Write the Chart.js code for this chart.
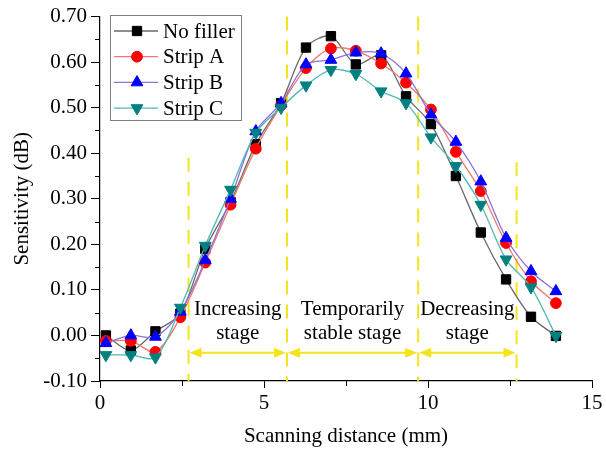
<!DOCTYPE html>
<html>
<head>
<meta charset="utf-8">
<script src="https://cdn.jsdelivr.net/npm/chart.js@4.4.1/dist/chart.umd.min.js"></script>
<style>
  html, body { margin: 0; padding: 0; background: #fff; }
  #wrap { width: 606px; height: 457px; }
</style>
</head>
<body>
<div id="wrap"><canvas id="chartSens" width="606" height="457"></canvas></div>
<script>
// scanning positions (mm)
const distance = [0.18, 0.94, 1.69, 2.45, 3.21, 3.98, 4.75, 5.52, 6.28, 7.04, 7.80, 8.57, 9.33, 10.09, 10.85, 11.61, 12.38, 13.14, 13.90];

// sensitivity (dB)
const noFiller = [0.000, -0.033, 0.009, 0.048, 0.190, 0.293, 0.420, 0.510, 0.632, 0.657, 0.595, 0.615, 0.525, 0.464, 0.350, 0.226, 0.123, 0.041, -0.001];
const stripA   = [-0.012, -0.012, -0.036, 0.040, 0.160, 0.287, 0.410, 0.505, 0.587, 0.630, 0.625, 0.597, 0.555, 0.496, 0.403, 0.317, 0.203, 0.119, 0.071];
const stripB   = [-0.017, 0.000, -0.003, 0.052, 0.165, 0.300, 0.448, 0.510, 0.595, 0.605, 0.621, 0.619, 0.575, 0.485, 0.425, 0.338, 0.214, 0.141, 0.097];
const stripC   = [-0.043, -0.043, -0.048, 0.061, 0.197, 0.320, 0.445, 0.500, 0.549, 0.583, 0.574, 0.536, 0.510, 0.435, 0.372, 0.287, 0.167, 0.106, -0.001];

const seriesNames = ['No filler', 'Strip A', 'Strip B', 'Strip C'];

// stage boundaries (mm) and where each dashed line stops (dB)
const stageBounds = [2.7, 5.7, 9.7, 12.7];
const stageLineTop = [0.39, 0.70, 0.70, 0.38];
const stageNames = [['Increasing', 'stage'], ['Temporarily', 'stable stage'], ['Decreasing', 'stage']];
const arrowLevel = -0.038;

const xTicks = [0, 5, 10, 15];
const yTicks = [-0.10, 0.00, 0.10, 0.20, 0.30, 0.40, 0.50, 0.60, 0.70];

const FONT = 'Liberation Serif, Times New Roman, serif';
const YELLOW = '#f4e41c';

const styles = [
  { line: '#6a6a6a', fill: '#000000', shape: 'rect', r: 6.6, rot: 0 },
  { line: '#ee7a6a', fill: '#ff0000', shape: 'circle', r: 5.4, rot: 0 },
  { line: '#8c70dc', fill: '#0000ff', shape: 'triangle', r: 6.8, rot: 0 },
  { line: '#52b8b4', fill: '#008080', shape: 'triangle', r: 6.8, rot: 180 }
];

function toPoints(ys) {
  return distance.map((x, i) => ({ x: x, y: ys[i] }));
}

const allSeries = [noFiller, stripA, stripB, stripC];

const datasets = allSeries.map((ys, i) => ({
  label: seriesNames[i],
  data: toPoints(ys),
  borderColor: styles[i].line,
  borderWidth: 1.3,
  backgroundColor: styles[i].fill,
  pointBackgroundColor: styles[i].fill,
  pointBorderColor: styles[i].fill,
  pointBorderWidth: 1,
  pointStyle: styles[i].shape,
  pointRadius: styles[i].r,
  pointRotation: styles[i].rot,
  tension: 0.3,
  order: 4 - i
}));

function drawMarker(ctx, st, x, y) {
  ctx.save();
  ctx.fillStyle = st.fill;
  ctx.strokeStyle = st.fill;
  ctx.lineWidth = 1;
  Chart.helpers.drawPoint(ctx, { pointStyle: st.shape, radius: st.r, rotation: st.rot, borderWidth: 1 }, x, y);
  ctx.restore();
}

// minor ticks, stage markers and the boxed legend
const decorations = {
  id: 'decorations',
  beforeDatasetsDraw(chart) {
    const ctx = chart.ctx;
    const xs = chart.scales.x, ys = chart.scales.y;
    const bottom = ys.getPixelForValue(-0.10);
    ctx.save();
    ctx.strokeStyle = YELLOW;
    ctx.lineWidth = 2;
    ctx.setLineDash([14, 10]);
    stageBounds.forEach((b, i) => {
      const px = xs.getPixelForValue(b);
      ctx.beginPath();
      ctx.moveTo(px, ys.getPixelForValue(stageLineTop[i]));
      ctx.lineTo(px, bottom);
      ctx.stroke();
    });
    ctx.setLineDash([]);

    // double-headed arrows between boundaries
    const ay = ys.getPixelForValue(arrowLevel);
    ctx.fillStyle = YELLOW;
    for (let i = 0; i < stageBounds.length - 1; i++) {
      const x1 = xs.getPixelForValue(stageBounds[i]) + 1;
      const x2 = xs.getPixelForValue(stageBounds[i + 1]) - 1;
      ctx.beginPath();
      ctx.moveTo(x1 + 8, ay);
      ctx.lineTo(x2 - 8, ay);
      ctx.stroke();
      ctx.beginPath();
      ctx.moveTo(x1, ay);
      ctx.lineTo(x1 + 12, ay - 5);
      ctx.lineTo(x1 + 12, ay + 5);
      ctx.closePath();
      ctx.fill();
      ctx.beginPath();
      ctx.moveTo(x2, ay);
      ctx.lineTo(x2 - 12, ay - 5);
      ctx.lineTo(x2 - 12, ay + 5);
      ctx.closePath();
      ctx.fill();

      const cx = xs.getPixelForValue((stageBounds[i] + stageBounds[i + 1]) / 2);
      ctx.save();
      ctx.fillStyle = '#000';
      ctx.font = '21px ' + FONT;
      ctx.textAlign = 'center';
      ctx.textBaseline = 'middle';
      ctx.fillText(stageNames[i][0], cx, ys.getPixelForValue(0.056));
      ctx.fillText(stageNames[i][1], cx, ys.getPixelForValue(0.005));
      ctx.restore();
    }
    ctx.restore();
  },
  afterDraw(chart) {
    const ctx = chart.ctx;
    const xs = chart.scales.x, ys = chart.scales.y;
    const area = chart.chartArea;
    ctx.save();
    ctx.strokeStyle = '#000';
    ctx.lineWidth = 1;
    for (let v = -0.05; v < 0.7; v += 0.1) {
      const py = Math.round(ys.getPixelForValue(v)) + 0.5;
      ctx.beginPath();
      ctx.moveTo(area.left - 5, py);
      ctx.lineTo(area.left, py);
      ctx.stroke();
    }
    for (let v = 2.5; v < 15; v += 5) {
      const px = Math.round(xs.getPixelForValue(v)) + 0.5;
      ctx.beginPath();
      ctx.moveTo(px, area.bottom);
      ctx.lineTo(px, area.bottom + 5);
      ctx.stroke();
    }

    // legend
    const bx = 110.5, by = 15.5, bw = 131, bh = 105;
    ctx.fillStyle = '#fff';
    ctx.fillRect(bx, by, bw, bh);
    ctx.strokeStyle = '#808080';
    ctx.strokeRect(bx, by, bw, bh);
    ctx.font = '21px ' + FONT;
    ctx.textBaseline = 'middle';
    seriesNames.forEach((name, i) => {
      const ly = 31 + i * 25.7;
      ctx.strokeStyle = styles[i].line;
      ctx.lineWidth = 1.3;
      ctx.beginPath();
      ctx.moveTo(114, ly);
      ctx.lineTo(158, ly);
      ctx.stroke();
      drawMarker(ctx, styles[i], 137, ly);
      ctx.fillStyle = '#000';
      ctx.fillText(name, 163, ly + 1);
    });
    ctx.restore();
  }
};

const ctx = document.getElementById('chartSens');

new Chart(ctx, {
  type: 'line',
  data: { datasets: datasets },
  plugins: [decorations],
  options: {
    responsive: false,
    animation: false,
    layout: { padding: { top: 14, right: 14, bottom: 0, left: 0 } },
    plugins: { legend: { display: false }, tooltip: { enabled: false } },
    scales: {
      x: {
        type: 'linear',
        min: 0,
        max: 15,
        afterBuildTicks: (s) => { s.ticks = xTicks.map(v => ({ value: v })); },
        afterFit: (s) => { s.height = 76; },
        grid: { drawOnChartArea: false, drawTicks: true, tickLength: 7, color: '#000', tickWidth: 1 },
        border: { display: true, color: '#000', width: 1.2 },
        ticks: { color: '#000', padding: 3, font: { family: FONT, size: 21 }, maxRotation: 0 },
        title: { display: true, text: 'Scanning distance (mm)', color: '#000', font: { family: FONT, size: 21 }, padding: { top: 0, bottom: 8 } }
      },
      y: {
        type: 'linear',
        min: -0.10,
        max: 0.70,
        afterBuildTicks: (s) => { s.ticks = yTicks.map(v => ({ value: v })); },
        afterFit: (s) => { s.width = 100; },
        grid: { drawOnChartArea: false, drawTicks: true, tickLength: 9, color: '#000', tickWidth: 1 },
        border: { display: true, color: '#000', width: 1.2 },
        ticks: { color: '#000', padding: 4, font: { family: FONT, size: 21 }, callback: (v) => v.toFixed(2) },
        title: { display: true, text: 'Sensitivity (dB)', color: '#000', font: { family: FONT, size: 21 }, padding: { top: 10, bottom: 0 } }
      }
    }
  }
});
</script>
</body>
</html>
